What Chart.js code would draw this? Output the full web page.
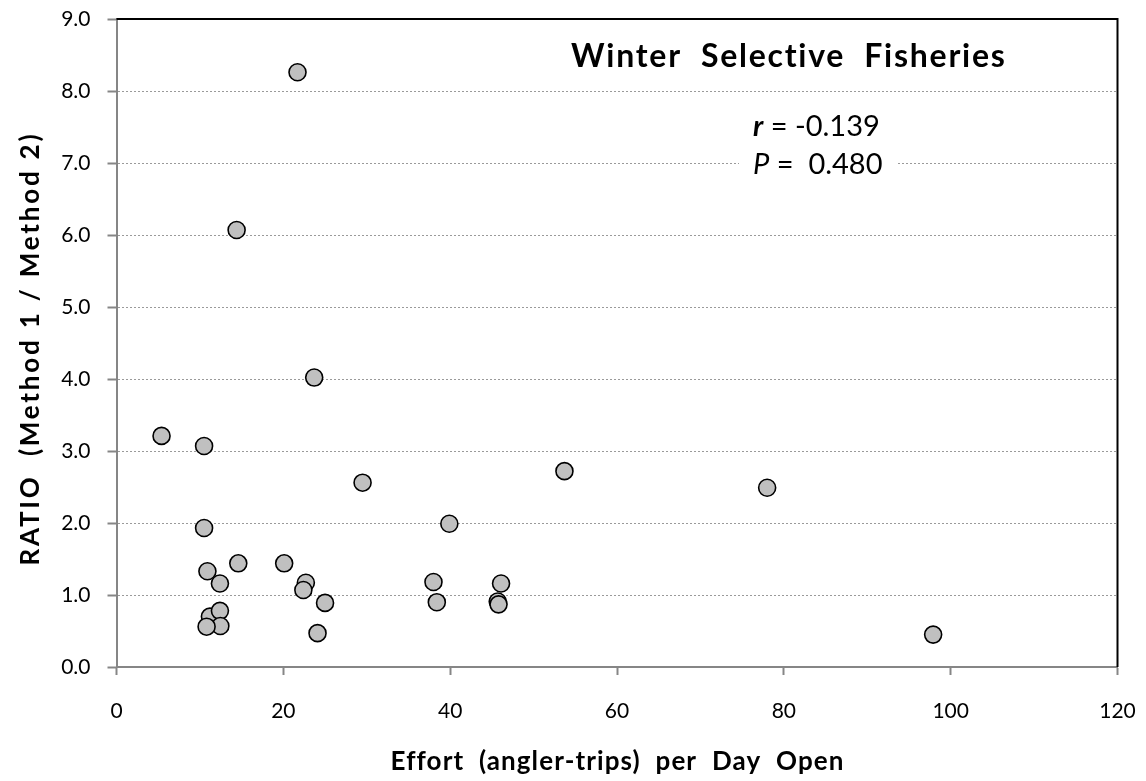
<!DOCTYPE html>
<html>
<head>
<meta charset="utf-8">
<title>Winter Selective Fisheries</title>
<script src="https://cdn.jsdelivr.net/npm/chart.js@4.4.1/dist/chart.umd.min.js"></script>
<style>
  html, body { margin: 0; padding: 0; background: #ffffff; }
  #wrap { width: 1146px; height: 781px; position: relative; }
</style>
</head>
<body>
<div id="wrap"><canvas id="chart" width="1146" height="781"></canvas></div>
<script>
// Effort (angler-trips per day open) and ratio of the two estimation methods, one entry per fishery
const effort = [5.4, 10.5, 10.5, 14.6, 20.1, 10.9, 12.4, 22.7, 22.4, 25.0,
                11.2, 12.4, 12.45, 10.8, 24.1, 29.5, 53.7, 39.9, 38.0, 38.4,
                46.1, 45.7, 45.8, 78.0, 97.9, 21.7, 14.4, 23.7];
const ratio  = [3.21, 3.07, 1.93, 1.44, 1.44, 1.33, 1.16, 1.17, 1.07, 0.89,
                0.70, 0.78, 0.57, 0.56, 0.47, 2.56, 2.72, 1.99, 1.18, 0.90,
                1.16, 0.91, 0.87, 2.49, 0.45, 8.26, 6.07, 4.02];

const xTickValues = [0, 20, 40, 60, 80, 100, 120];
const yTickValues = [0, 1, 2, 3, 4, 5, 6, 7, 8, 9];

const chartTitle = 'Winter  Selective  Fisheries';
const xTitle = 'Effort  (angler-trips)  per  Day  Open';
const yTitle = 'RATIO  (Method 1 / Method 2)';
const statR = '-0.139';
const statP = '0.480';

const FONT = 'Lato, "Open Sans", "Liberation Sans", sans-serif';
const AXIS_GREY = '#868686';

const points = effort.map((x, i) => ({ x: x, y: ratio[i] }));

// Draw a string spread to a given overall width (letter spacing takes up the difference)
function spacedText(ctx, text, x, y, width) {
  ctx.letterSpacing = '0px';
  const natural = ctx.measureText(text).width;
  const extra = Math.max(0, (width - natural) / text.length);
  ctx.letterSpacing = extra.toFixed(2) + 'px';
  // letter spacing is added after the last glyph too; shift to keep it centred
  ctx.fillText(text, x + extra / 2, y);
  ctx.letterSpacing = '0px';
}

// Keep the plot area fixed: the layout padding alone decides the margins
function noEdgePadding(scale) {
  scale.paddingTop = 0;
  scale.paddingBottom = 0;
  scale.paddingLeft = 0;
  scale.paddingRight = 0;
}

// Black frame on the top and right edges, stats box, chart title and axis titles
const annotations = {
  id: 'annotations',
  beforeDatasetsDraw(chart) {
    const { ctx, chartArea: a, scales } = chart;
    ctx.save();
    ctx.strokeStyle = '#000000';
    ctx.lineWidth = 2;
    ctx.beginPath();
    ctx.moveTo(a.left, a.top);
    ctx.lineTo(a.right, a.top);
    ctx.lineTo(a.right, a.bottom);
    ctx.stroke();

    // white box behind the correlation statistics
    const yS = scales.y;
    const boxTop = yS.getPixelForValue(7.4);
    const boxBottom = yS.getPixelForValue(6.75);
    ctx.fillStyle = '#ffffff';
    ctx.fillRect(739, boxTop, 158, boxBottom - boxTop);

    ctx.fillStyle = '#000000';
    ctx.textBaseline = 'alphabetic';
    ctx.textAlign = 'left';

    // r line
    const x0 = 753;
    ctx.font = 'italic bold 29px ' + FONT;
    ctx.fillText('r', x0, 136);
    let w = ctx.measureText('r').width;
    ctx.font = '29px ' + FONT;
    ctx.fillText(' = ' + statR, x0 + w, 136);

    // P line
    ctx.font = 'italic 29px ' + FONT;
    ctx.fillText('P', x0, 174);
    w = ctx.measureText('P').width;
    ctx.font = '29px ' + FONT;
    ctx.fillText(' =  ' + statP, x0 + w, 174);

    // chart title
    ctx.font = 'bold 32px ' + FONT;
    ctx.textAlign = 'center';
    spacedText(ctx, chartTitle, 788, 67, 436);
    ctx.restore();
  },
  afterDraw(chart) {
    const { ctx } = chart;
    ctx.save();
    ctx.fillStyle = '#000000';
    ctx.textAlign = 'center';
    ctx.textBaseline = 'alphabetic';
    ctx.font = 'bold 26px ' + FONT;
    spacedText(ctx, xTitle, 617, 770, 453);

    ctx.translate(39, 350);
    ctx.rotate(-Math.PI / 2);
    spacedText(ctx, yTitle, 0, 0, 434);
    ctx.restore();
  }
};

new Chart(document.getElementById('chart'), {
  type: 'scatter',
  data: {
    datasets: [{
      data: points,
      pointRadius: 8.5,
      pointHoverRadius: 8.5,
      pointBackgroundColor: '#c0c0c0',
      pointBorderColor: '#000000',
      pointBorderWidth: 1.6
    }]
  },
  options: {
    responsive: false,
    animation: false,
    layout: { padding: { top: 19, right: 28.5, left: 0, bottom: 0 } },
    plugins: {
      legend: { display: false },
      tooltip: { enabled: false },
      title: { display: false }
    },
    scales: {
      x: {
        type: 'linear',
        min: 0,
        max: 120,
        afterBuildTicks(scale) { scale.ticks = xTickValues.map(v => ({ value: v })); },
        afterFit(scale) { scale.height = 114; noEdgePadding(scale); },
        ticks: {
          color: '#000000',
          font: { family: FONT, size: 21 },
          padding: 24,
          maxRotation: 0,
          callback: v => String(v)
        },
        grid: {
          drawOnChartArea: false,
          drawTicks: true,
          tickLength: 8,
          tickColor: AXIS_GREY,
          tickWidth: 2
        },
        border: { display: true, color: AXIS_GREY, width: 2 }
      },
      y: {
        type: 'linear',
        min: 0,
        max: 9,
        afterBuildTicks(scale) { scale.ticks = yTickValues.map(v => ({ value: v })); },
        afterFit(scale) { scale.width = 116.5; noEdgePadding(scale); },
        ticks: {
          color: '#000000',
          font: { family: FONT, size: 21 },
          padding: 17,
          callback: v => Number(v).toFixed(1)
        },
        grid: {
          drawOnChartArea: true,
          drawTicks: true,
          tickLength: 9,
          color: '#9a9a9a',
          lineWidth: 1,
          tickColor: AXIS_GREY,
          tickWidth: 2,
          tickBorderDash: []
        },
        border: { display: true, color: AXIS_GREY, width: 2, dash: [2, 2] }
      }
    }
  },
  plugins: [annotations]
});
</script>
</body>
</html>
